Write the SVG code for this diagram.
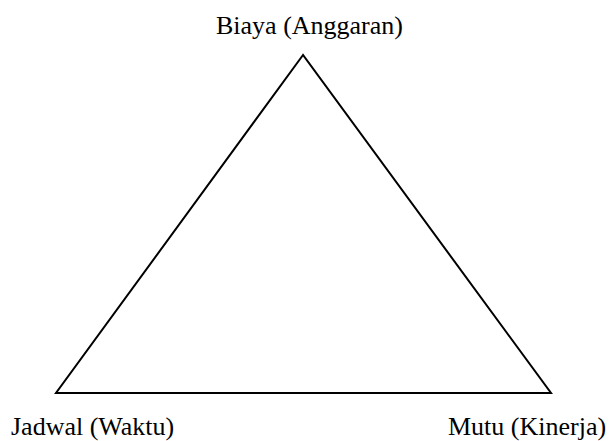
<svg xmlns="http://www.w3.org/2000/svg" width="612" height="441" viewBox="0 0 612 441">
<style>
.lbl{font-family:"Liberation Serif","Times New Roman",serif;font-size:26px;fill:#000}
.edge{fill:none;stroke:#000;stroke-width:2;stroke-linejoin:miter}
</style>
<rect width="612" height="441" fill="#fff"/>
<g id="connectors">
<polygon class="edge" points="303,55 56,393 551,393"/>
</g>
<g id="biaya"><text class="lbl" x="216" y="34">Biaya (Anggaran)</text></g>
<g id="jadwal"><text class="lbl" x="11" y="435">Jadwal (Waktu)</text></g>
<g id="mutu"><text class="lbl" x="448" y="435">Mutu (Kinerja)</text></g>
</svg>
